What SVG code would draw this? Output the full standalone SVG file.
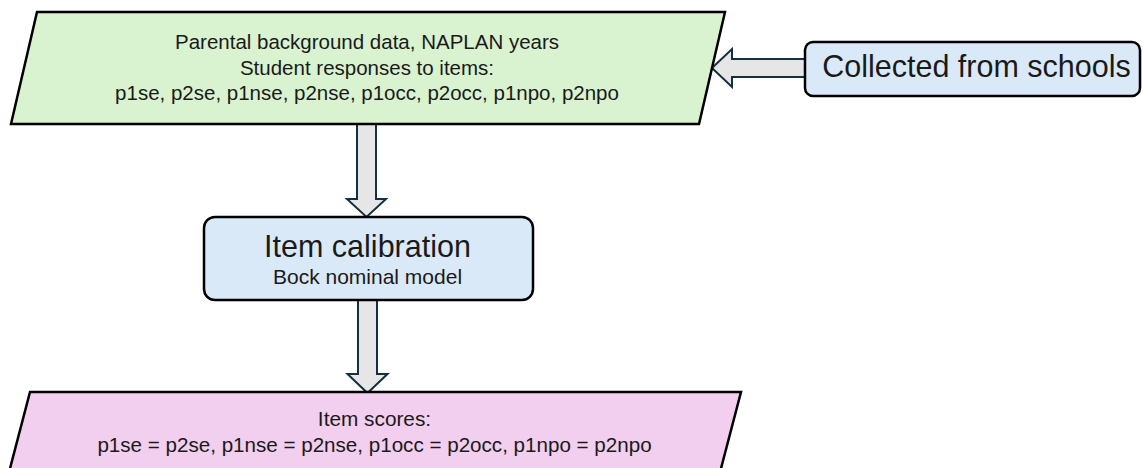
<svg xmlns="http://www.w3.org/2000/svg" width="1143" height="468" viewBox="0 0 1143 468">
<style>
.node{stroke:#000;stroke-width:2.5;stroke-linejoin:miter}
.green{fill:#d9f2d0}
.blue{fill:#dae9f8}
.pink{fill:#f2ceef}
.arrow{fill:#e6e6e6;stroke:#12303f;stroke-width:2;stroke-linejoin:miter}
text{font-family:"Liberation Sans",Arial,sans-serif;fill:#1a1a1a;text-anchor:middle}
</style>
<rect width="1143" height="468" fill="#fff"/>
<g id="connectors">
<polygon class="arrow" points="357,124 376,124 376,199 386,199 366.5,217 347,199 357,199"/>
<polygon class="arrow" points="358,300 377,300 377,374 387.5,374 367.5,393 347.5,374 358,374"/>
<polygon class="arrow" points="805,59 732,59 732,49 712,68 732,87 732,77 805,77"/>
</g>
<g id="node-input">
<polygon class="node green" points="37,12 725,12 699,124 11,124"/>
<text x="367" y="49" font-size="20.5">Parental background data, NAPLAN years</text>
<text x="367" y="75" font-size="20.5">Student responses to items:</text>
<text x="367" y="100" font-size="20.5">p1se, p2se, p1nse, p2nse, p1occ, p2occ, p1npo, p2npo</text>
</g>
<g id="node-schools">
<rect class="node blue" x="805" y="42" width="335" height="54" rx="8"/>
<text x="976.5" y="77" font-size="30.5">Collected from schools</text>
</g>
<g id="node-calibration">
<rect class="node blue" x="204" y="217" width="329" height="83" rx="11"/>
<text x="367.5" y="257" font-size="30.5">Item calibration</text>
<text x="367.5" y="284" font-size="21">Bock nominal model</text>
</g>
<g id="node-scores">
<polygon class="node pink" points="30,392 741,392 718,480 7,480"/>
<text x="374.5" y="426" font-size="20.8">Item scores:</text>
<text x="374.5" y="452" font-size="20.6">p1se = p2se, p1nse = p2nse, p1occ = p2occ, p1npo = p2npo</text>
</g>
</svg>
